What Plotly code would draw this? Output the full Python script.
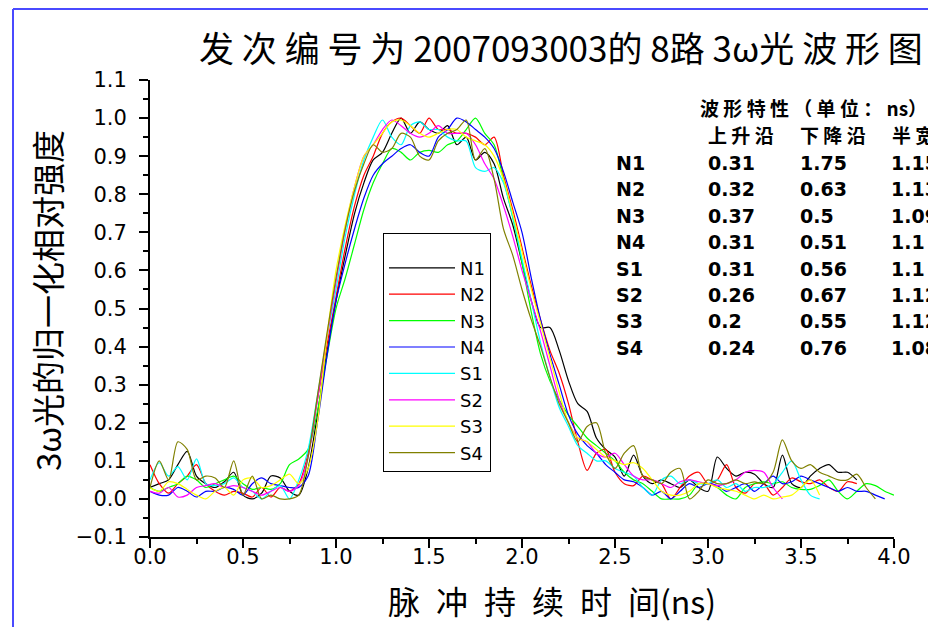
import plotly.graph_objects as go

# time grid (ns), shared by all eight channels
t = [0.00, 0.05, 0.10, 0.15, 0.20, 0.25, 0.30, 0.35, 0.40, 0.45,
     0.50, 0.55, 0.60, 0.65, 0.70, 0.75, 0.80, 0.85, 0.90, 0.95,
     1.00, 1.05, 1.10, 1.15, 1.20, 1.25, 1.30, 1.35, 1.40, 1.45,
     1.50, 1.55, 1.60, 1.65, 1.70, 1.75, 1.80, 1.85, 1.90, 1.95,
     2.00, 2.05, 2.10, 2.15, 2.20, 2.25, 2.30, 2.35, 2.40, 2.45,
     2.50, 2.55, 2.60, 2.65, 2.70, 2.75, 2.80, 2.85, 2.90, 2.95,
     3.00, 3.05, 3.10, 3.15, 3.20, 3.25, 3.30, 3.35, 3.40, 3.45,
     3.50, 3.55, 3.60, 3.65, 3.70, 3.75, 3.80, 3.85, 3.90, 3.95,
     4.00]

# normalised 3w intensity per channel
n1 = [0.03, 0.04, 0.05, 0.09, 0.125, 0.06, 0.04, 0.03, 0.045, 0.07,
      0.01, 0.0, 0.015, 0.06, 0.055, 0.02, 0.01, 0.08, 0.22, 0.38,
      0.52, 0.64, 0.75, 0.83, 0.89, 0.91, 0.96, 1.0, 0.96, 0.99,
      0.97, 0.96, 0.98, 0.93, 0.95, 0.89, 0.91, 0.88, 0.79, 0.72,
      0.62, 0.52, 0.45, 0.45, 0.39, 0.31, 0.25, 0.23, 0.16, 0.13,
      0.11, 0.06, 0.115, 0.06, 0.04, 0.05, 0.04, 0.03, 0.05, 0.03,
      0.02, 0.11, 0.08, 0.06, 0.07, 0.065, 0.04, 0.03, 0.115, 0.04,
      0.03, 0.06, 0.08, 0.09, 0.07, 0.07, 0.05]
n2 = [0.09, 0.04, 0.015, 0.04, 0.06, 0.09, 0.04, 0.02, 0.01, 0.02,
      0.015, 0.005, 0.03, 0.005, 0.03, 0.02, 0.04, 0.12, 0.26, 0.40,
      0.53, 0.66, 0.77, 0.85, 0.90, 0.96, 0.99, 1.0, 0.98, 0.96,
      1.0, 0.97, 0.97, 0.96, 0.96, 0.95, 0.93, 0.95, 0.85, 0.76,
      0.66, 0.56, 0.47, 0.39, 0.33, 0.25, 0.15, 0.075, 0.12, 0.13,
      0.07, 0.04, 0.035, 0.06, 0.05, 0.04, 0.0, 0.03, 0.06, 0.07,
      0.04, 0.05, 0.09, 0.03, 0.015, 0.04, 0.04, 0.01, 0.03, 0.055,
      0.045, 0.04, 0.05, 0.03, 0.02, 0.045, 0.04]
n3 = [0.03, 0.02, 0.03, 0.04, 0.06, 0.05, 0.03, 0.04, 0.05, 0.06,
      0.04, 0.025, 0.03, 0.025, 0.04, 0.09, 0.105, 0.13, 0.23, 0.37,
      0.50, 0.58, 0.67, 0.76, 0.83, 0.88, 0.92, 0.91, 0.89, 0.91,
      0.915, 0.91, 0.93, 0.94, 0.97, 1.0, 0.96, 0.93, 0.84, 0.74,
      0.62, 0.49, 0.38, 0.31, 0.26, 0.22, 0.19, 0.16, 0.14, 0.12,
      0.10, 0.07, 0.05, 0.04, 0.02, 0.0, 0.0, 0.0, 0.01, 0.04,
      0.04, 0.03, 0.01, 0.0, 0.03, 0.04, 0.045, 0.04, 0.045, 0.03,
      0.025, 0.025, 0.035, 0.05, 0.02, 0.0, 0.02, 0.04, 0.035, 0.02,
      0.01]
n4 = [0.02, 0.01, 0.01, 0.03, 0.02, 0.005, 0.02, 0.02, 0.03, 0.025,
      0.01, 0.04, 0.055, 0.04, 0.035, 0.03, 0.03, 0.06, 0.20, 0.37,
      0.52, 0.62, 0.71, 0.79, 0.85, 0.88, 0.90, 0.92, 0.93, 0.91,
      0.90, 0.95, 0.97, 1.0, 0.99, 0.97, 0.95, 0.92, 0.86, 0.78,
      0.70, 0.58, 0.47, 0.38, 0.30, 0.22, 0.17, 0.14, 0.12, 0.09,
      0.07, 0.05, 0.045, 0.03, 0.01, 0.02, 0.0, 0.02, 0.04, 0.03,
      0.04, 0.035, 0.02, 0.03, 0.04, 0.02, 0.04, 0.06, 0.04, 0.045,
      0.06, 0.05, 0.04, 0.03, 0.02, 0.03, 0.02, 0.02, 0.01, 0.0]
s1 = [0.05, 0.095, 0.06, 0.085, 0.05, 0.105, 0.04, 0.035, 0.04, 0.055,
      0.03, 0.02, 0.0, 0.02, 0.035, 0.0, 0.05, 0.13, 0.27, 0.42,
      0.55, 0.69, 0.80, 0.89, 0.95, 0.995, 0.95, 0.93, 0.98, 0.99,
      0.97, 0.97, 0.95, 0.94, 0.94, 0.87, 0.86, 0.87, 0.83, 0.74,
      0.63, 0.52, 0.41, 0.32, 0.24, 0.19, 0.14, 0.12, 0.10, 0.10,
      0.08, 0.07, 0.06, 0.03, 0.01, 0.05, 0.06, 0.04, 0.05, 0.04,
      0.04, 0.05, 0.03, 0.04, 0.02, 0.03, 0.03, 0.04, 0.07, 0.10,
      0.05, 0.01, 0.0]
s2 = [0.02, 0.015, 0.03, 0.005, 0.01, 0.03, 0.035, 0.04, 0.03, 0.035,
      0.03, 0.02, 0.01, 0.02, 0.03, 0.02, 0.035, 0.11, 0.26, 0.42,
      0.57, 0.71, 0.82, 0.90, 0.93, 0.97, 0.995, 0.98, 0.96, 0.95,
      0.96, 0.98, 0.96, 0.96, 0.96, 0.93, 0.88, 0.84, 0.77, 0.69,
      0.60, 0.52, 0.44, 0.35, 0.26, 0.20, 0.16, 0.15, 0.12, 0.11,
      0.12, 0.09, 0.06, 0.05, 0.05, 0.04, 0.03, 0.045, 0.05, 0.045,
      0.04, 0.035, 0.04, 0.05, 0.07, 0.075, 0.07, 0.03, 0.0]
s3 = [0.03, 0.02, 0.045, 0.04, 0.025, 0.01, 0.0, 0.02, 0.03, 0.01,
      0.05, 0.055, 0.03, 0.035, 0.05, 0.065, 0.04, 0.08, 0.20, 0.42,
      0.60, 0.72, 0.82, 0.90, 0.93, 0.96, 0.99, 0.995, 0.98, 0.96,
      0.95, 0.96, 0.97, 0.97, 0.95, 0.94, 0.93, 0.90, 0.84, 0.75,
      0.65, 0.55, 0.46, 0.37, 0.28, 0.20, 0.16, 0.15, 0.13, 0.11,
      0.10, 0.09, 0.095, 0.08, 0.05, 0.02, 0.01, 0.01, 0.02, 0.04,
      0.04, 0.03, 0.025, 0.02, 0.01, 0.0, 0.01, 0.0, 0.005, 0.01,
      0.03, 0.05, 0.01]
s4 = [0.03, 0.10, 0.05, 0.15, 0.13, 0.05, 0.06, 0.055, 0.03, 0.10,
      0.01, 0.06, 0.0, 0.01, 0.0, 0.0, 0.01, 0.11, 0.27, 0.43,
      0.58, 0.71, 0.81, 0.88, 0.93, 0.91, 0.92, 0.96, 0.95, 0.90,
      0.89, 0.94, 0.96, 0.97, 0.995, 0.89, 0.92, 0.84, 0.71, 0.64,
      0.55, 0.47, 0.40, 0.32, 0.25, 0.20, 0.15, 0.19, 0.20, 0.12,
      0.08, 0.12, 0.14, 0.06, 0.05, 0.04, 0.07, 0.08, 0.0, 0.02,
      0.05, 0.04, 0.04, 0.05, 0.04, 0.045, 0.04, 0.07, 0.155, 0.10,
      0.08, 0.09, 0.07, 0.06, 0.05, 0.05, 0.065, 0.03, 0.0]

names = ["N1", "N2", "N3", "N4", "S1", "S2", "S3", "S4"]
colors = ["#000000", "#ff0000", "#00ff00", "#0000ff",
          "#00ffff", "#ff00ff", "#ffff00", "#808000"]
curves = [n1, n2, n3, n4, s1, s2, s3, s4]

# waveform table (ns)
rise = [0.31, 0.32, 0.37, 0.31, 0.31, 0.26, 0.2, 0.24]
fall = [1.75, 0.63, 0.5, 0.51, 0.56, 0.67, 0.55, 0.76]
fwhm = [1.15, 1.13, 1.09, 1.1, 1.1, 1.12, 1.12, 1.08]

# page body adds 8px, so the figure is laid out 8px up/left of the target
OFF = 8
W, H = 936 - OFF, 627 - OFF
L, T = 150 - OFF, 80 - OFF
R, B = W - (894 - OFF), H - (537 - OFF)


def px(x):
    # target pixel -> paper x
    return (x - OFF - L) / (W - L - R)


def py(y):
    # target pixel -> paper y
    return (H - B - (y - OFF)) / (H - T - B)


fig = go.Figure()
for name, ys, col in zip(names, curves, colors):
    fig.add_trace(go.Scatter(
        x=t[:len(ys)], y=ys, mode="lines", name=name,
        line=dict(color=col, width=1.2, shape="spline", smoothing=0.8)
    ))

tickfont = dict(family="DejaVu Sans", size=21, color="black")
fig.update_xaxes(
    range=[0, 4], tick0=0, dtick=0.5, tickformat=".1f",
    showline=True, linewidth=2, linecolor="black",
    ticks="outside", ticklen=9, tickwidth=2, tickcolor="black",
    minor=dict(ticks="outside", dtick=0.25, ticklen=5, tickwidth=2, tickcolor="black"),
    showgrid=False, zeroline=False, tickfont=tickfont, ticklabelstandoff=-9,
)
fig.update_yaxes(
    range=[-0.1, 1.1], tick0=0, dtick=0.1, tickformat=".1f",
    showline=True, linewidth=2, linecolor="black",
    ticks="outside", ticklen=9, tickwidth=2, tickcolor="black",
    minor=dict(ticks="outside", dtick=0.05, ticklen=5, tickwidth=2, tickcolor="black"),
    showgrid=False, zeroline=False, tickfont=tickfont, ticklabelstandoff=8,
)

cjk = "Noto Sans CJK SC"
en = "\u2002"
ann = [
    dict(text="发 次 编 号 为 2007093003的 8路 3ω光 波 形 图",
         x=px(561), y=py(47), font=dict(family=cjk, size=35)),
    dict(text=en.join("脉冲持续时") + en + "间(ns)", x=px(552), y=py(600),
         font=dict(family=cjk, size=32)),
    dict(text="3ω光的归一化相对强度", x=px(47), y=py(301), textangle=-90,
         font=dict(family=cjk, size=33)),
    dict(text="波 形 特 性 （ 单 位 ： ns）", x=px(698), y=py(107), xanchor="left",
         font=dict(family=cjk, size=19, weight="bold")),
]
for label, xp in [("上 升 沿", 706), ("下 降 沿", 798), ("半 宽", 890)]:
    ann.append(dict(text=label, x=px(xp), y=py(134), xanchor="left",
                    font=dict(family=cjk, size=19, weight="bold")))

bold = dict(family="DejaVu Sans", size=19, color="black", weight="bold")
for i, name in enumerate(names):
    yy = py(163 + 26.4 * i)
    for txt, xp in [(name, 614), (str(rise[i]), 706), (str(fall[i]), 798), (str(fwhm[i]), 889)]:
        ann.append(dict(text=txt, x=px(xp), y=yy, xanchor="left", font=bold))

for a in ann:
    a.setdefault("xanchor", "center")
    a.update(xref="paper", yref="paper", yanchor="middle", showarrow=False)
    a["font"].setdefault("color", "black")

# blue frame edge at left and top
frame = dict(color="#4a4aff", width=2)
shapes = [
    dict(type="line", xref="paper", yref="paper", x0=px(13), x1=px(13),
         y0=py(640), y1=py(9), line=frame),
    dict(type="line", xref="paper", yref="paper", x0=px(13), x1=px(950),
         y0=py(9), y1=py(9), line=frame),
]

fig.update_layout(
    width=W, height=H,
    margin=dict(l=L, r=R, t=T, b=B),
    paper_bgcolor="white", plot_bgcolor="white",
    annotations=ann, shapes=shapes,
    legend=dict(
        x=px(383), y=py(233), xanchor="left", yanchor="top",
        bgcolor="white", bordercolor="black", borderwidth=1,
        font=dict(family="DejaVu Sans", size=18, color="black"),
        itemwidth=66, tracegroupgap=0,
        title=dict(text="&nbsp;", font=dict(size=12)),
    ),
)

fig.write_html("out.html")
